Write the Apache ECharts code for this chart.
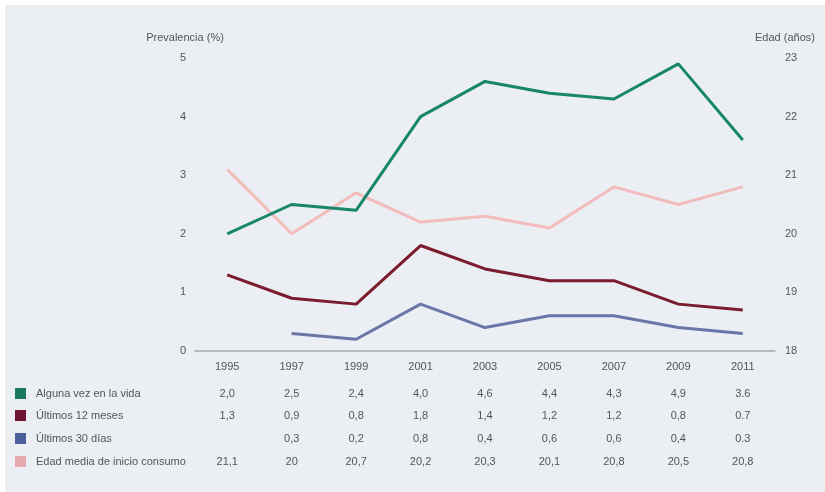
<!DOCTYPE html>
<html><head><meta charset="utf-8">
<script src="https://cdn.jsdelivr.net/npm/echarts@6/dist/echarts.min.js"></script>
<style>html,body{margin:0;padding:0;background:#fff;}#c{width:825px;height:492px;}</style>
</head><body><div id="c"></div>
<script>
var years = ['1995','1997','1999','2001','2003','2005','2007','2009','2011'];
var alguna = [2.0, 2.5, 2.4, 4.0, 4.6, 4.4, 4.3, 4.9, 3.6];
var meses12 = [1.3, 0.9, 0.8, 1.8, 1.4, 1.2, 1.2, 0.8, 0.7];
var dias30 = [null, 0.3, 0.2, 0.8, 0.4, 0.6, 0.6, 0.4, 0.3];
var edad = [21.1, 20, 20.7, 20.2, 20.3, 20.1, 20.8, 20.5, 20.8];
var seriesNames = ['Alguna vez en la vida', 'Últimos 12 meses', 'Últimos 30 días', 'Edad media de inicio consumo'];
var tableRows = [
  ['2,0','2,5','2,4','4,0','4,6','4,4','4,3','4,9','3.6'],
  ['1,3','0,9','0,8','1,8','1,4','1,2','1,2','0,8','0.7'],
  ['','0,3','0,2','0,8','0,4','0,6','0,6','0,4','0.3'],
  ['21,1','20','20,7','20,2','20,3','20,1','20,8','20,5','20,8']
];
var lineColors = ['#18866a', '#7b1c2c', '#6b76a8', '#f2bcbc'];
var boxColors = ['#1a7a5e', '#6e1533', '#4d5f9b', '#e6a9ae'];

var chart = echarts.init(document.getElementById('c'));
var font = 'Liberation Sans, Arial, sans-serif';
var txt = '#555';
var opt = {
  animation: false,
  backgroundColor: '#ffffff',
  textStyle: {fontFamily: font},
  grid: {left: 195, right: 50, top: 58, bottom: 141},
  xAxis: {
    type: 'category', data: years, boundaryGap: true,
    axisLine: {lineStyle: {color: '#a8a8a8', width: 1.5}},
    axisTick: {show: false},
    axisLabel: {color: txt, fontSize: 11, margin: 10, fontFamily: font}
  },
  yAxis: [
    {type: 'value', min: 0, max: 5, interval: 1, name: 'Prevalencia (%)', nameGap: 15,
     nameTextStyle: {color: txt, fontSize: 11, align: 'center', padding: [0, 20, 0, 0], fontFamily: font},
     axisLine: {show: false}, axisTick: {show: false}, splitLine: {show: false},
     axisLabel: {color: txt, fontSize: 11, margin: 9, fontFamily: font}},
    {type: 'value', min: 18, max: 23, interval: 1, name: 'Edad (años)', nameGap: 15,
     nameTextStyle: {color: txt, fontSize: 11, align: 'center', padding: [0, 0, 0, 20], fontFamily: font},
     axisLine: {show: false}, axisTick: {show: false}, splitLine: {show: false},
     axisLabel: {color: txt, fontSize: 11, margin: 10, fontFamily: font}}
  ],
  series: [
    {name: seriesNames[0], type: 'line', data: alguna, yAxisIndex: 0, showSymbol: false, symbol: 'none', lineStyle: {width: 3, color: lineColors[0]}, z: 5},
    {name: seriesNames[1], type: 'line', data: meses12, yAxisIndex: 0, showSymbol: false, symbol: 'none', lineStyle: {width: 3, color: lineColors[1]}, z: 4},
    {name: seriesNames[2], type: 'line', data: dias30, yAxisIndex: 0, showSymbol: false, symbol: 'none', lineStyle: {width: 3, color: lineColors[2]}, z: 3},
    {name: seriesNames[3], type: 'line', data: edad, yAxisIndex: 1, showSymbol: false, symbol: 'none', lineStyle: {width: 3, color: lineColors[3]}, z: 2}
  ]
};
chart.setOption(opt);

var g = [{type: 'rect', z: -10, silent: true, shape: {x: 5, y: 5, width: 820, height: 487}, style: {fill: '#ebeef3'}}];
var rowY = [394, 416, 439, 462];
for (var r = 0; r < 4; r++) {
  g.push({type: 'rect', z: 10, shape: {x: 15, y: rowY[r] - 6, width: 11, height: 11}, style: {fill: boxColors[r]}});
  g.push({type: 'text', z: 10, x: 36, y: rowY[r], style: {text: seriesNames[r], fill: txt, font: '11px ' + font, textVerticalAlign: 'middle'}});
  for (var i = 0; i < years.length; i++) {
    var px = chart.convertToPixel({xAxisIndex: 0}, years[i]);
    g.push({type: 'text', z: 10, x: px, y: rowY[r], style: {text: tableRows[r][i], fill: txt, font: '11px ' + font, textAlign: 'center', textVerticalAlign: 'middle'}});
  }
}
chart.setOption({graphic: g});
</script></body></html>
